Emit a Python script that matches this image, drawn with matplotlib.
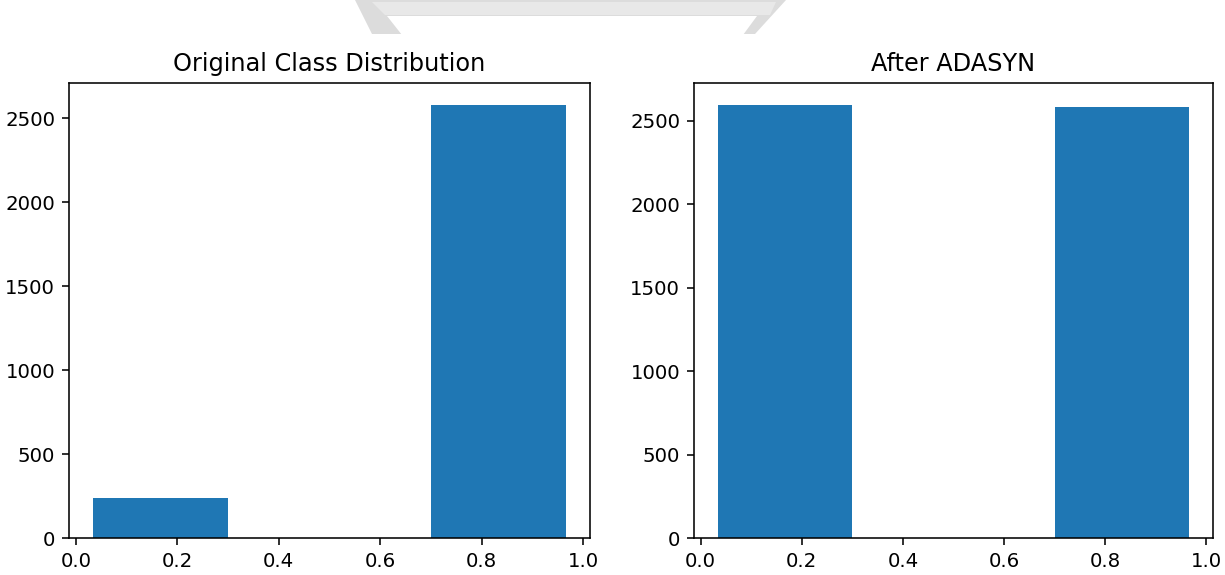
import matplotlib
matplotlib.use("Agg")
import matplotlib.pyplot as plt
from matplotlib.patches import Polygon

# class counts (label 0, label 1)
labels = [0, 1]
counts_original = [240, 2580]
counts_adasyn = [2596, 2580]
titles = ["Original Class Distribution", "After ADASYN"]

W, H = 1225, 575
fig = plt.figure(figsize=(W / 142, H / 142), dpi=142)

ax1 = fig.add_axes([69 / W, 1 - 538 / H, (590 - 69) / W, (538 - 83) / H])
ax2 = fig.add_axes([694 / W, 1 - 538 / H, (1213 - 694) / W, (538 - 83) / H])

for ax, counts, title in zip([ax1, ax2], [counts_original, counts_adasyn], titles):
    ax.hist(labels, bins=3, weights=counts, rwidth=0.8, color="#1f77b4")
    ax.set_title(title, fontsize=12.2)


def px(x, y):
    return (x / W, 1 - y / H)


# faint grey frame at the top edge
outer = Polygon([px(355, 0), px(786, 0), px(755, 34), px(372, 34)],
                closed=True, transform=fig.transFigure, facecolor="#dcdcdc",
                edgecolor="none", zorder=0)
band = Polygon([px(372, 2), px(776, 2), px(770, 15), px(385, 15)],
               closed=True, transform=fig.transFigure, facecolor="#e8e8e8",
               edgecolor="none", zorder=1)
inner = Polygon([px(387, 16), px(757, 16), px(743, 35), px(402, 35)],
                closed=True, transform=fig.transFigure, facecolor="white",
                edgecolor="none", zorder=1)
fig.patches.extend([outer, band, inner])

fig.savefig("out.png", dpi=142)
